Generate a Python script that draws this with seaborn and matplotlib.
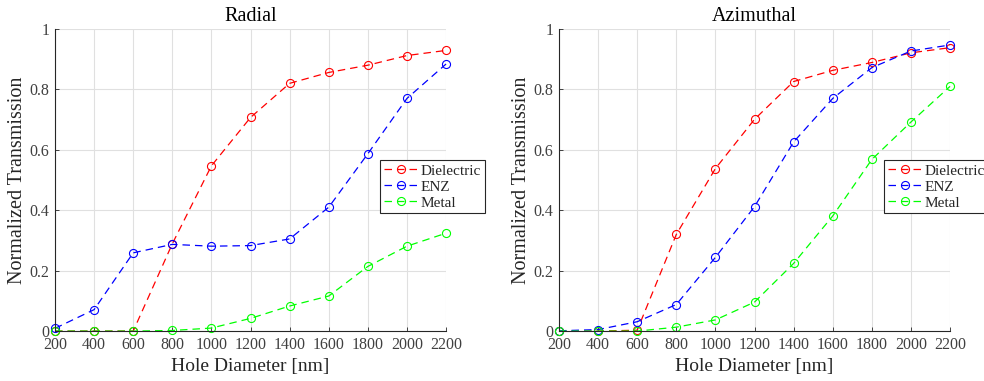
import matplotlib
matplotlib.use("Agg")
import matplotlib.pyplot as plt
import seaborn as sns
import pandas as pd

diameter = [200, 400, 600, 800, 1000, 1200, 1400, 1600, 1800, 2000, 2200]

radial_dielectric = [0, 0, 0, 0.289, 0.547, 0.707, 0.820, 0.856, 0.880, 0.912, 0.929]
radial_enz = [0.009, 0.071, 0.259, 0.287, 0.281, 0.283, 0.305, 0.410, 0.587, 0.770, 0.884]
radial_metal = [0, 0, 0, 0.002, 0.010, 0.042, 0.083, 0.116, 0.214, 0.281, 0.324]

azim_dielectric = [0, 0, 0.003, 0.320, 0.538, 0.701, 0.826, 0.863, 0.889, 0.921, 0.938]
azim_enz = [0.001, 0.005, 0.031, 0.088, 0.244, 0.412, 0.626, 0.770, 0.872, 0.927, 0.947]
azim_metal = [0, 0, 0, 0.013, 0.037, 0.096, 0.224, 0.381, 0.568, 0.692, 0.810]

series_names = ["Dielectric", "ENZ", "Metal"]
colors = ["#ff0000", "#0000ff", "#00ff00"]
titles = ["Radial", "Azimuthal"]
xticks = [200, 400, 600, 800, 1000, 1200, 1400, 1600, 1800, 2000, 2200]
yticks = [0, 0.2, 0.4, 0.6, 0.8, 1.0]
yticklabels = ["0", "0.2", "0.4", "0.6", "0.8", "1"]

sns.set_theme(style="white")
plt.rcParams["font.family"] = ["Liberation Serif", "DejaVu Serif"]

fig = plt.figure(figsize=(9.84, 3.81), dpi=100)
ax1 = fig.add_axes([0.0559, 0.131, 0.3974, 0.793])
ax2 = fig.add_axes([0.5681, 0.131, 0.3974, 0.793])

panels = [
    (ax1, [radial_dielectric, radial_enz, radial_metal]),
    (ax2, [azim_dielectric, azim_enz, azim_metal]),
]

for (ax, data), title in zip(panels, titles):
    for name, vals, col in zip(series_names, data, colors):
        df = pd.DataFrame({"d": diameter, "t": vals})
        sns.lineplot(data=df, x="d", y="t", ax=ax, color=col, label=name,
                     linestyle=(0, (6, 4)), linewidth=0.9, marker="o",
                     markersize=5.8, markerfacecolor="none",
                     markeredgecolor=col, markeredgewidth=0.8, clip_on=False)
    ax.set_xlim(200, 2200)
    ax.set_ylim(0, 1)
    ax.set_xticks(xticks)
    ax.set_xticklabels([str(v) for v in xticks])
    ax.set_yticks(yticks)
    ax.set_yticklabels(yticklabels)
    ax.grid(True, color="#e0e0e0", linewidth=0.8)
    ax.set_axisbelow(True)
    for s in ["top", "right"]:
        ax.spines[s].set_visible(False)
    for s in ["left", "bottom"]:
        ax.spines[s].set_color("#262626")
        ax.spines[s].set_linewidth(0.8)
    ax.tick_params(direction="in", length=3, width=0.6, colors="#262626",
                   labelsize=11.5, labelcolor="#404040", pad=4,
                   bottom=True, left=True)
    ax.set_title(title, fontsize=14.5, color="black", pad=6)
    ax.set_xlabel("Hole Diameter [nm]", fontsize=14, color="#262626", labelpad=4)
    ax.set_ylabel("Normalized Transmission", fontsize=14.5, color="#262626", labelpad=2)
    leg = ax.legend(loc="upper left", bbox_to_anchor=(0.831, 0.566),
                    fontsize=11, frameon=True, fancybox=False,
                    borderpad=0.25, labelspacing=0.15, handlelength=2.2,
                    handletextpad=0.2, borderaxespad=0)
    leg.get_frame().set_edgecolor("#262626")
    leg.get_frame().set_linewidth(0.8)
    leg.get_frame().set_alpha(1)

fig.savefig("out.png", dpi=100)
